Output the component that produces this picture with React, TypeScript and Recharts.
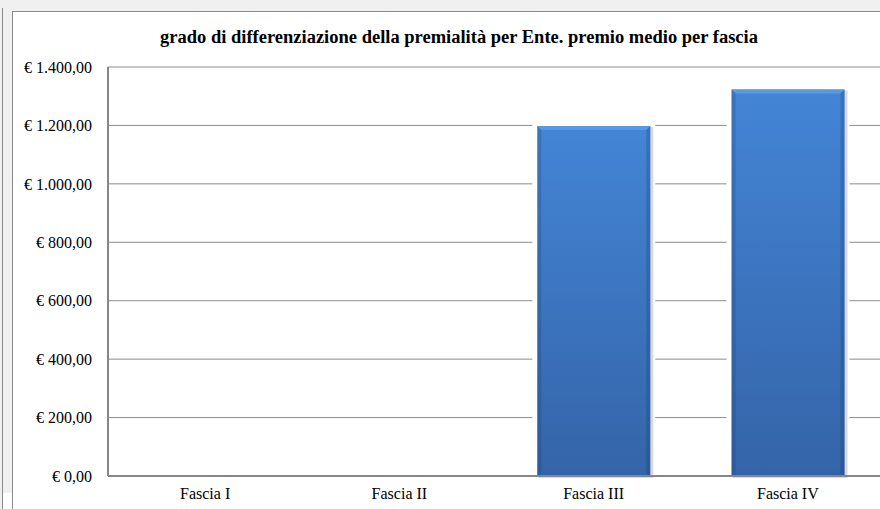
import { BarChart, Bar, XAxis, YAxis, CartesianGrid } from 'recharts'

const categories = ['Fascia I', 'Fascia II', 'Fascia III', 'Fascia IV']
const premioMedio = [0, 0, 1198, 1323]
const yTicks = [0, 200, 400, 600, 800, 1000, 1200, 1400]
const title = 'grado di differenziazione della premialità per Ente. premio medio per fascia'

const data = categories.map((c, i) => ({ name: c, value: premioMedio[i] }))

const fontFamily = "'Liberation Serif', 'Times New Roman', Tinos, 'DejaVu Serif', serif"

function euro(v: number) {
  const [int, dec] = v.toFixed(2).split('.')
  const grouped = int.replace(/\B(?=(\d{3})+(?!\d))/g, '.')
  return `€ ${grouped},${dec}`
}

function BevelBar(props: any) {
  const { x, y, width, height } = props
  if (!height || height <= 0) return null
  const b = 4
  return (
    <g>
      <rect x={x - 5} y={y - 2} width={width + 10} height={height + 2} fill="#ffffff" />
      <rect x={x + 1} y={y + 1} width={width + 2} height={height + 1} fill="rgba(0,0,0,0.15)" />
      <rect x={x} y={y} width={width} height={height} fill="url(#barGrad)" />
      <polygon
        points={`${x},${y} ${x + width},${y} ${x + width - b},${y + b} ${x + b},${y + b}`}
        fill="#569ae6"
      />
      <polygon
        points={`${x},${y} ${x + b},${y + b} ${x + b},${y + height} ${x},${y + height}`}
        fill="rgba(20,50,110,0.2)"
      />
      <polygon
        points={`${x + width},${y} ${x + width - b},${y + b} ${x + width - b},${y + height} ${x + width},${y + height}`}
        fill="rgba(20,50,110,0.25)"
      />
    </g>
  )
}

export default function App() {
  return (
    <div
      style={{
        position: 'absolute',
        left: 0,
        top: 0,
        width: 880,
        height: 509,
        background: '#f0f0f0',
        overflow: 'hidden',
      }}
    >
      <div style={{ position: 'absolute', left: 2, top: 8, width: 1, height: 520, background: '#8a8a8a' }} />
      <div style={{ position: 'absolute', left: 3, top: 493, width: 9, height: 20, background: '#ffffff' }} />
      <div
        style={{
          position: 'absolute',
          left: 12,
          top: 11,
          width: 900,
          height: 520,
          background: '#ffffff',
          border: '1px solid #8a8a8a',
        }}
      />
      <div
        style={{
          position: 'absolute',
          left: 0,
          top: 26,
          width: 918,
          textAlign: 'center',
          fontFamily,
          fontWeight: 'bold',
          fontSize: 18.5,
          lineHeight: '22px',
          color: '#000',
        }}
      >
        {title}
      </div>
      <div style={{ position: 'absolute', left: 0, top: 0 }}>
        <BarChart
          width={900}
          height={509}
          data={data}
          margin={{ top: 67, right: 15, bottom: 3, left: 12 }}
          barCategoryGap="21%"
          style={{ fontFamily }}
        >
          <defs>
            <linearGradient id="barGrad" x1="0" y1="0" x2="0" y2="1">
              <stop offset="0%" stopColor="#4485d6" />
              <stop offset="100%" stopColor="#3464a8" />
            </linearGradient>
          </defs>
          <CartesianGrid vertical={false} stroke="#8c8c8c" strokeWidth={1} />
          <XAxis
            dataKey="name"
            height={30}
            tickSize={0}
            tickMargin={12}
            axisLine={{ stroke: '#868686', strokeWidth: 2 }}
            tickLine={false}
            tick={{ fill: '#000', fontSize: 16, fontFamily }}
          />
          <YAxis
            width={96}
            domain={[0, 1400]}
            ticks={yTicks}
            interval={0}
            tickFormatter={euro}
            tickSize={0}
            tickMargin={16}
            axisLine={{ stroke: '#868686', strokeWidth: 2 }}
            tickLine={false}
            tick={{ fill: '#000', fontSize: 16, fontFamily }}
          />
          <Bar dataKey="value" shape={BevelBar} isAnimationActive={false} />
        </BarChart>
      </div>
    </div>
  )
}
